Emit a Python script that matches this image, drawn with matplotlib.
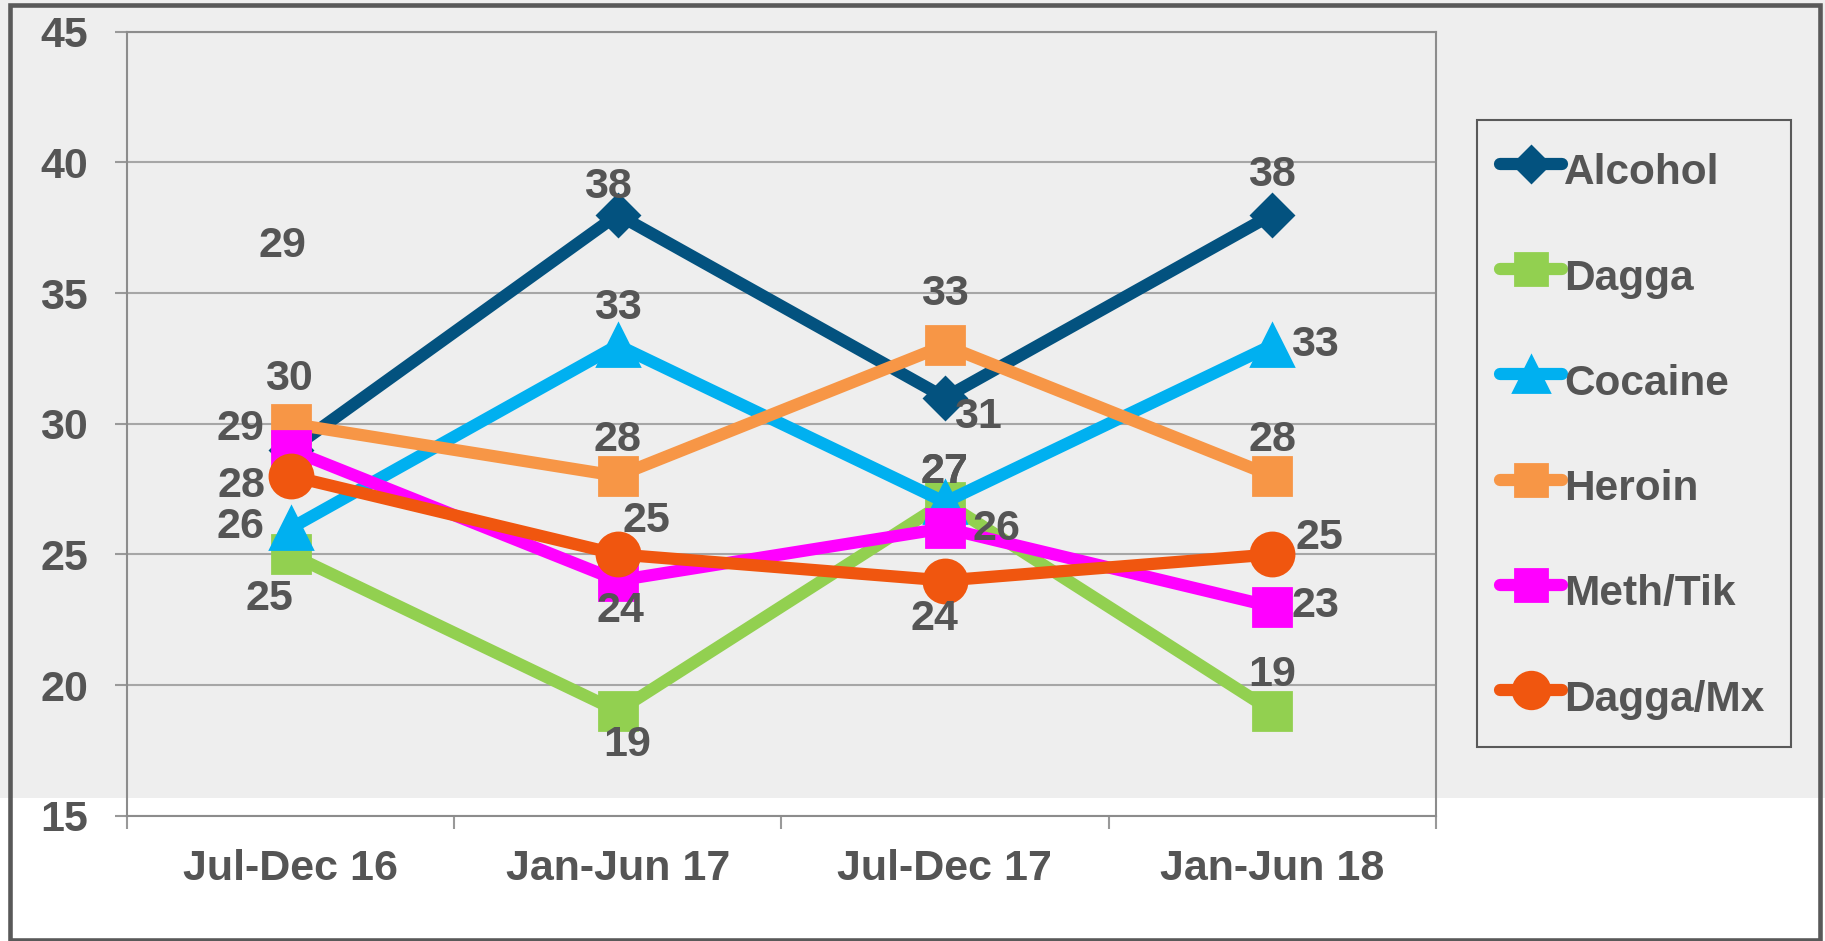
import matplotlib.pyplot as plt
from matplotlib.patches import Rectangle

# chart data
periods = ["Jul-Dec 16", "Jan-Jun 17", "Jul-Dec 17", "Jan-Jun 18"]
alcohol = [29, 38, 31, 38]
dagga = [25, 19, 27, 19]
cocaine = [26, 33, 27, 33]
heroin = [30, 28, 33, 28]
meth_tik = [29, 24, 26, 23]
dagga_mx = [28, 25, 24, 25]

names = ["Alcohol", "Dagga", "Cocaine", "Heroin", "Meth/Tik", "Dagga/Mx"]
series = [alcohol, dagga, cocaine, heroin, meth_tik, dagga_mx]
colors = ["#03527f", "#92d050", "#00b0f0", "#f79646", "#ff00ff", "#f0560f"]
markers = ["D", "s", "^", "s", "s", "o"]
msizes = [21, 27, 30, 27, 27, 31]

# label offsets in pixels (dx, dy up)
offsets = [
    [(-8, 204), (-10, 28), (33, -19), (0, 40)],
    [(-21, -45), (9, -34), (0, 30), (0, 36)],
    [(-50, 1), (0, 37), (0, 30), (43, 0)],
    [(-2, 45), (0, 36), (0, 51), (0, 36)],
    [(-50, 21), (3, -30), (52, -1), (43, 1)],
    [(-49, -10), (29, 33), (-10, -38), (47, 16)],
]

W, H = 1825, 941
fig = plt.figure(figsize=(W / 100, H / 100), dpi=100, facecolor="white")
fig.patches.append(Rectangle((0, 1 - 798 / H), 1, 798 / H, transform=fig.transFigure,
                             facecolor="#eeeeee", edgecolor="none", zorder=-10))
fig.patches.append(Rectangle((9.5 / W, 1 / H), 1810 / W, 935 / H, transform=fig.transFigure,
                             facecolor="none", edgecolor="#595959", lw=3.3, zorder=10))

ax = fig.add_axes([127 / W, 1 - 815.7 / H, 1308.7 / W, 784 / H])
ax.set_facecolor("none")

x = range(len(periods))
txt = "#555555"
for i in range(len(series)):
    ax.plot(x, series[i], color=colors[i], lw=8.8, marker=markers[i], markersize=msizes[i],
            markeredgewidth=2, markeredgecolor=colors[i], solid_capstyle="round",
            solid_joinstyle="round", label=names[i], zorder=3 + i * 0.1)
    for j in range(len(periods)):
        ax.annotate(str(series[i][j]), (j, series[i][j]), xytext=offsets[i][j],
                    textcoords="offset pixels", ha="center", va="center",
                    fontsize=31, fontweight="bold", color=txt,
                    family="Liberation Sans", zorder=10)

ax.set_xlim(-0.5, 3.5)
ax.set_ylim(15, 45)
ax.set_yticks(range(15, 50, 5))
ax.set_xticks([-0.5, 0.5, 1.5, 2.5, 3.5])
ax.set_xticklabels([])
ax.set_xticks(list(x), minor=True)
ax.set_xticklabels(periods, minor=True)
ax.tick_params(axis="x", which="minor", length=0, pad=24)
ax.tick_params(axis="x", which="major", length=9, width=1.5, color="#999999")
ax.tick_params(axis="y", length=9, width=1.5, color="#999999", pad=19)
for lab in ax.get_xticklabels(minor=True) + ax.get_yticklabels():
    lab.set_fontsize(31)
    lab.set_fontweight("bold")
    lab.set_color(txt)
    lab.set_family("Liberation Sans")
ax.grid(axis="y", color="#a6a6a6", lw=1.5)
ax.set_axisbelow(True)
for s in ax.spines.values():
    s.set_color("#8c8c8c")
    s.set_linewidth(1.5)

leg = fig.legend(loc="upper left", bbox_to_anchor=(1477 / W, 0, 314 / W, 1 - 120 / H),
                 mode="expand",
                 prop={"family": "Liberation Sans", "weight": "bold", "size": 30.5},
                 labelcolor=txt, frameon=True, fancybox=False, edgecolor="#595959",
                 facecolor="#eeeeee", framealpha=1, handlelength=1.46, handletextpad=0.05,
                 handleheight=1.6, labelspacing=1.2, borderpad=0.55, borderaxespad=0,
                 markerscale=0.85)
leg.get_frame().set_linewidth(1.5)

fig.savefig("out.png", dpi=100)
